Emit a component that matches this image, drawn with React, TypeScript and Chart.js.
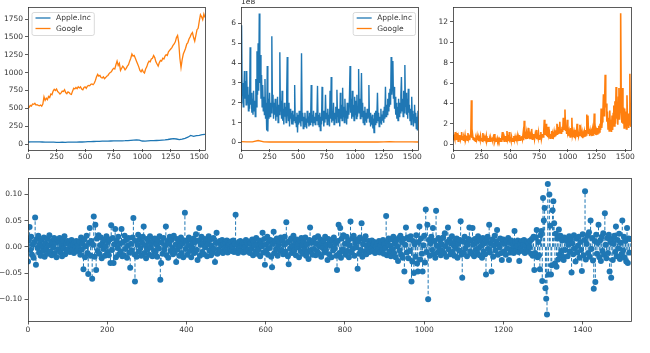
import { useEffect, useRef } from "react";
import { Chart, registerables } from "chart.js";

Chart.register(...registerables);

// ---------------- data ----------------
const GOOGLE_CLOSE_STEP = 10;
const APPLE_CLOSE_STEP = 25;
const VOLUME_STEP = 5;
const GOOGLE_VOLUME_STEP = 50;
const RATIO_STEP = 5;
const DIFF_STEP = 2;

const googleClose = [
  500, 515, 540, 530, 560, 555, 570, 545, 550, 540,
  535, 545, 530, 560, 660, 610, 640, 620, 665, 650,
  700, 690, 740, 765, 750, 770, 735, 720, 700, 715,
  740, 735, 760, 720, 705, 730, 720, 700, 695, 740,
  780, 770, 790, 775, 800, 785, 800, 770, 760, 790,
  800, 780, 810, 820, 815, 835, 840, 830, 850, 890,
  940, 975, 950, 960, 930, 925, 940, 915, 930, 950,
  960, 985, 1000, 1010, 1040, 1060, 1050, 1110, 1160, 1100,
  1130, 1030, 1060, 1090, 1070, 1040, 1060, 1090, 1110, 1160,
  1200, 1260, 1230, 1240, 1200, 1160, 1120, 1080, 1030, 1010,
  1040, 1010, 995, 1050, 1080, 1130, 1160, 1150, 1190, 1200,
  1240, 1210, 1150, 1120, 1090, 1140, 1170, 1160, 1200, 1190,
  1230, 1250, 1240, 1290, 1310, 1330, 1350, 1380, 1400, 1430,
  1490, 1520, 1420, 1200, 1070, 1180, 1260, 1300, 1340, 1400,
  1420, 1470, 1500, 1540, 1560, 1490, 1440, 1520, 1600, 1620,
  1720, 1810, 1780, 1740, 1820, 1770,
];

const appleClose = [
  28, 30, 31, 30, 29, 28, 27, 26, 26, 25,
  24, 24, 25, 24, 25, 26, 27, 27, 28, 28,
  30, 32, 33, 35, 37, 38, 39, 40, 40, 42,
  43, 44, 44, 45, 46, 48, 52, 55, 58, 54,
  42, 40, 44, 46, 47, 49, 50, 54, 58, 63,
  70, 76, 70, 62, 68, 80, 95, 120, 108, 118,
  122, 130, 135,
];

// volumes in units of 1e8
const appleVolume = [
  2.0, 5.9, 2.4, 3.0, 1.8, 2.6, 3.6, 2.2, 3.1, 1.9,
  3.6, 2.0, 2.8, 1.6, 2.4, 1.7, 4.8, 1.9, 2.5, 1.5,
  2.2, 1.4, 2.6, 1.6, 2.1, 1.3, 3.2, 1.8, 4.6, 2.4,
  5.0, 2.6, 6.5, 3.0, 4.4, 2.2, 3.4, 1.8, 2.9, 1.6,
  2.3, 1.4, 3.2, 1.2, 2.0, 0.6, 3.85, 0.55, 2.2, 1.2,
  2.5, 1.3, 2.0, 1.5, 5.35, 1.9, 2.4, 1.2, 2.0, 1.4,
  2.2, 1.1, 1.8, 1.3, 2.3, 1.0, 1.9, 1.4, 4.55, 1.6,
  2.1, 1.2, 2.6, 1.1, 1.7, 0.9, 2.0, 1.3, 1.8, 1.0,
  2.4, 4.3, 1.6, 1.1, 2.0, 0.8, 1.7, 1.2, 1.5, 0.9,
  1.6, 0.9, 1.4, 1.1, 2.9, 1.0, 1.3, 0.8, 1.5, 0.5,
  1.4, 0.9, 1.6, 1.0, 1.3, 0.8, 4.5, 1.1, 1.5, 0.7,
  1.3, 0.8, 1.5, 0.9, 1.2, 0.7, 1.6, 1.0, 1.3, 0.8,
  1.5, 0.9, 1.2, 2.9, 1.0, 1.4, 0.8, 1.6, 1.0, 1.3,
  0.9, 1.5, 1.1, 1.3, 2.85, 0.9, 1.4, 0.8, 1.5, 0.6,
  1.3, 0.9, 2.8, 1.1, 1.6, 0.8, 1.4, 1.0, 2.4, 1.2,
  1.5, 0.9, 1.7, 1.1, 1.4, 0.8, 2.6, 1.2, 3.3, 1.0,
  1.6, 1.1, 2.0, 0.9, 1.5, 1.2, 1.8, 1.0, 2.65, 1.3,
  1.7, 1.0, 1.4, 0.8, 2.5, 1.2, 1.9, 1.1, 2.75, 1.3,
  1.8, 1.0, 2.2, 1.3, 1.6, 0.9, 2.0, 1.2, 1.7, 1.4,
  2.4, 3.85, 1.5, 2.2, 1.2, 2.6, 1.3, 1.9, 1.1, 2.3,
  1.4, 2.1, 1.2, 2.4, 1.3, 1.8, 3.7, 1.5, 2.2, 1.2,
  1.9, 3.5, 1.3, 2.0, 1.0, 1.6, 0.9, 1.8, 1.1, 1.5,
  1.0, 1.7, 1.2, 1.4, 2.9, 1.0, 1.5, 0.8, 1.3, 0.9,
  1.4, 0.7, 1.2, 0.5, 1.5, 0.9, 1.6, 1.0, 1.3, 2.5,
  1.1, 1.5, 0.8, 1.3, 1.0, 1.7, 0.9, 1.4, 1.1, 1.6,
  1.0, 1.8, 1.2, 2.8, 1.3, 1.9, 1.4, 2.2, 1.6, 2.5,
  1.8, 2.7, 1.9, 4.3, 2.4, 3.0, 4.1, 2.2, 2.8, 1.7,
  2.3, 1.4, 2.0, 1.2, 1.8, 1.1, 2.2, 1.3, 2.0, 1.5,
  2.4, 3.3, 1.6, 2.2, 1.3, 2.6, 1.5, 3.9, 1.8, 2.5,
  1.4, 2.2, 1.2, 2.7, 1.5, 1.9, 1.1, 1.7, 0.9, 2.3,
  1.2, 1.6, 0.8, 1.4, 1.9, 1.0, 1.5, 0.7, 1.3, 0.6,
  1.6,
];

const googleVolume = [
  0.04, 0.03, 0.03, 0.1, 0.03, 0.02, 0.03, 0.02, 0.02, 0.02,
  0.02, 0.02, 0.02, 0.03, 0.02, 0.02, 0.02, 0.02, 0.03, 0.02,
  0.03, 0.02, 0.02, 0.02, 0.02, 0.03, 0.04, 0.03, 0.03, 0.03,
  0.03, 0.02,
];

const ratioSeries = [
  0.9, 0.4, 0.7, 0.5, 1.2, 0.4, 0.8, 0.5, 1.1, 0.3,
  0.7, 0.5, 0.9, 0.4, 0.6, 1.2, 0.5, 0.8, 0.4, 0.7,
  0.5, 0.9, 0.4, 0.6, 0.8, 0.4, 1.1, 0.5, 0.7, 0.4,
  0.8, 1.0, 4.3, 0.6, 1.0, 0.5, 0.7, 0.4, 0.6, 0.3,
  0.6, 0.4, 0.8, 0.4, 0.7, 0.3, 0.6, 0.4, 0.8, 0.4,
  0.6, 0.3, 1.1, 0.5, 0.7, 0.3, 0.6, 0.4, 0.8, 0.3,
  0.5, 0.3, 0.6, 0.3, 0.5, 0.3, 0.6, 0.4, 0.5, 0.3,
  0.6, 0.3, 1.0, 0.3, 0.5, 0.3, 0.4, 0.6, 0.3, 0.5,
  0.3, 0.5, 0.3, 0.6, 0.3, 0.7, 1.2, 0.4, 0.7, 0.3,
  0.6, 0.4, 0.8, 0.3, 1.3, 0.4, 0.6, 0.3, 1.2, 0.4,
  0.5, 0.3, 0.7, 0.3, 0.6, 0.3, 0.8, 0.4, 0.7, 0.3,
  0.6, 0.4, 0.8, 0.3, 0.7, 0.4, 0.9, 0.4, 0.6, 0.5,
  0.8, 0.5, 1.0, 0.4, 2.3, 0.6, 0.9, 0.5, 1.1, 0.6,
  0.8, 1.6, 0.6, 1.0, 0.5, 0.9, 0.6, 1.5, 0.5, 0.8,
  0.6, 1.0, 0.5, 0.9, 0.6, 1.4, 0.5, 0.8, 0.6, 1.1,
  0.5, 0.9, 0.6, 1.2, 0.5, 0.8, 1.0, 0.7, 1.3, 2.4,
  0.9, 1.4, 2.0, 0.8, 1.2, 0.7, 1.7, 0.9, 1.1, 0.6,
  1.0, 0.7, 1.3, 0.6, 1.0, 0.8, 1.2, 0.7, 1.1, 0.8,
  1.3, 2.0, 0.9, 1.4, 1.0, 1.6, 2.2, 1.1, 1.5, 1.0,
  1.7, 1.2, 2.6, 1.4, 1.9, 3.4, 1.3, 1.8, 1.0, 2.4,
  1.1, 1.3, 0.8, 1.2, 0.7, 1.6, 0.8, 2.6, 0.9, 1.2,
  0.7, 1.1, 0.6, 1.4, 0.8, 1.0, 2.0, 0.7, 1.2, 0.8,
  1.0, 1.9, 0.8, 1.3, 0.7, 1.1, 0.6, 1.0, 0.7, 1.2,
  0.8, 1.4, 0.9, 2.9, 1.2, 2.8, 1.0, 1.5, 0.8, 1.3,
  0.9, 1.2, 0.8, 1.4, 0.9, 1.3, 3.0, 1.0, 1.5, 0.9,
  1.3, 1.0, 1.6, 1.1, 1.8, 1.2, 2.0, 1.4, 3.5, 1.6,
  2.2, 3.0, 4.9, 2.8, 4.0, 6.8, 3.6, 4.0, 2.2, 3.2,
  1.5, 2.6, 1.3, 3.3, 1.6, 2.4, 1.2, 2.8, 1.4, 3.0,
  3.8, 1.8, 4.2, 2.0, 5.6, 2.5, 3.6, 1.9, 4.6, 5.5,
  2.4, 3.4, 12.85, 4.2, 2.1, 5.5, 2.0, 3.6, 1.6, 3.5,
  1.8, 3.2, 1.5, 4.8, 2.0, 3.0, 1.6, 2.6, 6.9, 1.9,
  1.7,
];

const diffSeries = [
  -0.028, 0.012, 0.038, -0.006, 0.019, -0.015, 0.004, -0.021, 0.009, 0.056, -0.034, 0.015, -0.002, 0.021, -0.011, 0.006, -0.017, 0.013, 0.001, -0.008, 0.018, -0.019, 0.007, -0.004, 0.016, -0.013, 0.003, 0.022, -0.009, 0.011, -0.016, 0.005, -0.001, 0.017, -0.012, 0.008, -0.02, 0.014, -0.005, 0.01,
  0.017, -0.011, 0.004, -0.018, 0.012, -0.003, 0.02, -0.014, 0.007, -0.007, 0.011, -0.004, 0.008, -0.01, 0.002, 0.013, -0.006, 0.005, -0.012, 0.009, -0.001, 0.011, -0.008, 0.004, -0.003, 0.01, -0.015, 0.018, -0.005, 0.006, -0.043, 0.014, -0.02, 0.001, 0.021, -0.012, -0.052, 0.008, 0.036, -0.017,
  0.011, -0.061, 0.004, 0.058, -0.019, 0.042, -0.044, 0.016, -0.008, 0.022, -0.013, 0.003, 0.018, -0.022, 0.007, -0.004, 0.013, -0.017, 0.001, 0.02, -0.01, 0.009, -0.016, 0.014, -0.031, 0.041, -0.006, 0.017, -0.031, 0.005, 0.034, -0.02, 0.011, -0.002, 0.019, -0.014, 0.006, -0.009, 0.034, -0.018,
  0.009, -0.016, 0.021, -0.004, 0.013, -0.021, 0.002, 0.017, -0.011, -0.04, 0.006, -0.007, 0.018, 0.055, -0.014, -0.066, 0.011, -0.019, 0.004, 0.023, -0.009, 0.014, -0.002, -0.017, 0.008, 0.019, 0.039, -0.012, 0.003, -0.022, 0.015, -0.005, 0.01, -0.015, 0.02, -0.001, 0.007, -0.018, 0.012, -0.008,
  0.016, -0.01, 0.005, -0.019, 0.012, -0.003, 0.02, -0.063, -0.031, 0.008, -0.013, 0.017, -0.006, 0.002, 0.039, -0.016, 0.011, -0.021, 0.006, 0.019, -0.008, 0.013, -0.002, -0.014, 0.021, -0.011, 0.004, -0.029, 0.015, -0.005, 0.009, -0.017, 0.001, 0.018, -0.012, 0.007, -0.02, 0.012, 0.065, -0.004,
  0.011, -0.015, 0.003, 0.018, -0.008, 0.014, -0.02, 0.006, -0.003, 0.016, -0.012, 0.009, 0.024, -0.006, -0.025, 0.012, 0.036, -0.017, 0.004, 0.019, -0.01, 0.007, -0.014, 0.015, -0.001, 0.011, -0.018, 0.005, 0.02, -0.007, 0.013, -0.016, 0.002, -0.011, 0.017, -0.004, -0.029, 0.008, 0.027, -0.013,
  0.008, -0.005, 0.011, -0.009, 0.002, 0.013, -0.012, 0.005, -0.002, 0.009, -0.007, 0.012, -0.011, 0.003, 0.007, -0.004, 0.01, -0.008, 0.001, 0.012, -0.01, 0.006, 0.061, -0.006, 0.004, -0.012, 0.009, -0.003, 0.011, -0.008, 0.002, 0.008, -0.011, 0.005, -0.001, 0.013, -0.009, 0.006, -0.005, 0.01,
  -0.012, 0.007, -0.003, 0.014, -0.016, 0.01, 0.002, -0.009, 0.017, -0.013, 0.005, -0.005, 0.012, -0.018, 0.008, 0.001, 0.027, -0.011, 0.015, -0.034, 0.004, -0.007, 0.019, -0.015, 0.009, -0.002, 0.013, -0.019, -0.039, 0.006, 0.029, -0.012, 0.011, -0.004, 0.016, -0.017, 0.003, 0.01, -0.008, 0.018,
  -0.006, 0.013, -0.014, 0.004, 0.019, -0.009, 0.047, 0.008, -0.018, -0.033, 0.011, -0.003, 0.016, -0.012, 0.002, 0.021, -0.007, 0.009, -0.016, 0.014, -0.001, 0.006, -0.02, 0.012, -0.008, 0.017, 0.003, -0.013, 0.01, -0.004, 0.018, -0.017, 0.005, -0.01, -0.023, 0.013, 0.037, -0.006, 0.008, -0.015,
  0.012, -0.004, 0.017, -0.016, 0.006, -0.009, 0.02, -0.013, 0.001, 0.014, -0.019, 0.008, -0.002, 0.011, -0.011, 0.019, -0.006, 0.004, -0.025, 0.015, -0.014, 0.009, 0.002, -0.02, 0.013, -0.007, 0.018, -0.003, 0.007, -0.017, -0.044, 0.011, 0.042, -0.012, 0.036, -0.021, 0.016, -0.005, 0.022, -0.01,
  0.006, -0.015, 0.019, -0.008, 0.012, -0.02, 0.003, 0.0485, -0.011, 0.016, -0.004, 0.021, -0.017, 0.008, -0.001, 0.014, -0.042, 0.01, -0.013, 0.018, -0.006, 0.045, -0.019, 0.005, 0.013, -0.009, 0.02, -0.014, 0.002, -0.005, 0.011, -0.01, 0.006, -0.003, 0.012, -0.008, 0.004, 0.009, -0.012, 0.001,
  -0.009, 0.007, -0.004, 0.011, -0.011, 0.003, 0.009, -0.006, 0.013, -0.013, 0.005, -0.002, 0.059, -0.016, 0.01, 0.016, -0.009, 0.002, -0.018, 0.014, -0.004, 0.019, -0.012, 0.007, -0.02, 0.012, 0.001, -0.027, 0.017, -0.007, 0.021, -0.015, 0.009, -0.021, 0.015, -0.047, 0.004, 0.037, -0.011, 0.018,
  -0.022, 0.014, -0.008, 0.02, -0.066, -0.028, 0.011, -0.05, 0.005, -0.019, 0.022, -0.032, -0.047, 0.009, 0.039, -0.024, 0.016, -0.013, -0.047, 0.003, 0.021, -0.03, 0.071, -0.01, 0.042, -0.1, 0.013, -0.017, 0.007, 0.019, -0.006, 0.036, -0.014, 0.011, -0.021, 0.069, 0.002, -0.011, 0.017, -0.004,
  0.012, -0.016, 0.005, -0.008, 0.018, -0.012, 0.026, 0.001, -0.019, 0.009, 0.037, -0.005, 0.014, -0.014, 0.007, 0.02, -0.01, 0.003, -0.017, 0.011, -0.002, 0.016, -0.021, 0.006, -0.007, 0.013, 0.049, -0.015, -0.059, 0.01, -0.011, 0.019, -0.003, 0.008, -0.018, 0.004, 0.015, 0.037, -0.009, 0.012,
  -0.013, 0.036, 0.004, -0.018, 0.015, -0.006, 0.009, -0.012, 0.02, -0.002, -0.016, 0.012, 0.002, -0.021, 0.017, -0.009, 0.007, -0.014, -0.053, 0.011, 0.019, -0.004, 0.042, -0.011, 0.006, -0.047, 0.014, -0.019, 0.003, 0.021, -0.007, 0.01, 0.032, -0.015, 0.005, -0.001, 0.016, -0.012, -0.025, 0.008,
  0.014, -0.009, 0.006, -0.015, 0.011, -0.003, 0.017, -0.025, 0.008, -0.011, 0.012, -0.005, 0.003, -0.012, 0.03, 0.009, -0.007, 0.001, 0.012, -0.01, -0.027, 0.006, -0.003, 0.011, -0.008, 0.004, 0.013, -0.012, 0.002, -0.006, 0.01, -0.009, 0.007, -0.001, 0.012, -0.013, 0.015, -0.017, 0.019, -0.044,
  -0.012, 0.018, 0.032, -0.02, 0.009, -0.016, -0.043, 0.022, 0.03, -0.065, 0.093, 0.05, 0.074, -0.079, -0.099, -0.129, 0.12, -0.053, 0.1, 0.04, -0.053, -0.035, 0.07, 0.087, 0.045, -0.032, 0.025, -0.038, 0.016, -0.024, 0.033, -0.015, 0.021, -0.008, 0.012, -0.019, -0.025, 0.018, -0.006, 0.014,
  0.011, -0.018, 0.004, 0.02, -0.009, 0.014, -0.049, 0.007, -0.014, 0.022, -0.003, -0.028, 0.016, -0.011, 0.002, 0.019, -0.021, 0.009, -0.006, -0.046, 0.024, -0.016, 0.013, 0.106, -0.024, 0.006, 0.021, -0.012, 0.028, -0.019, 0.05, -0.004, 0.017, -0.026, -0.08, 0.011, -0.067, 0.023, -0.013, 0.008,
  0.042, -0.02, 0.012, -0.027, 0.019, -0.008, 0.026, -0.015, 0.064, 0.004, -0.022, 0.017, -0.012, 0.023, -0.047, 0.009, -0.059, 0.015, -0.025, 0.006, 0.021, -0.01, 0.039, -0.018, 0.013, -0.003, 0.025, -0.023, 0.008, -0.014, 0.05, -0.007, 0.019, -0.021, 0.011, -0.028, 0.036, -0.031, 0.016, -0.011,
  0.015,
];

// ticks
const topXTicks = [0, 250, 500, 750, 1000, 1250, 1500];
const topXLabels = ["0", "250", "500", "750", "1000", "1250", "1500"];
const priceYTicks = [0, 250, 500, 750, 1000, 1250, 1500, 1750];
const priceYLabels = ["0", "250", "500", "750", "1000", "1250", "1500", "1750"];
const volumeYTicks = [0, 1, 2, 3, 4, 5, 6];
const volumeYLabels = ["0", "1", "2", "3", "4", "5", "6"];
const ratioYTicks = [0, 2, 4, 6, 8, 10, 12];
const ratioYLabels = ["0", "2", "4", "6", "8", "10", "12"];
const diffXTicks = [0, 200, 400, 600, 800, 1000, 1200, 1400];
const diffXLabels = ["0", "200", "400", "600", "800", "1000", "1200", "1400"];
const diffYTicks = [-0.1, -0.05, 0, 0.05, 0.1];
const diffYLabels = ["\u22120.10", "\u22120.05", "0.00", "0.05", "0.10"];

const seriesNames = ["Apple.Inc", "Google"];

// ---------------- styling helpers ----------------
const C0 = "#1f77b4";
const C1 = "#ff7f0e";
const FONT = "'DejaVu Sans', 'Liberation Sans', sans-serif";
const FS = 7.5;
const INK = "#333";

const toPoints = (vals: number[], step: number) => vals.map((v, i) => ({ x: i * step, y: v }));

function axis(min: number, max: number, tickVals: number[], labels: string[], size: number, isX: boolean, pad: number, tickLen = 3) {
  return {
    type: "linear",
    min,
    max,
    afterBuildTicks: (s: any) => {
      s.ticks = tickVals.map((v) => ({ value: v }));
    },
    afterFit: (s: any) => {
      if (isX) s.height = size;
      else s.width = size;
    },
    grid: { drawOnChartArea: false, drawTicks: true, tickLength: tickLen, color: INK, lineWidth: 0.8 },
    border: { display: false },
    ticks: {
      autoSkip: false,
      maxRotation: 0,
      minRotation: 0,
      padding: pad,
      color: INK,
      font: { family: FONT, size: FS },
      callback: (_v: any, i: number) => labels[i],
    },
  };
}

const framePlugin = {
  id: "frame",
  afterDraw(chart: any) {
    const { ctx, chartArea: a } = chart;
    ctx.save();
    ctx.strokeStyle = INK;
    ctx.lineWidth = 0.8;
    ctx.strokeRect(Math.round(a.left) + 0.5, Math.round(a.top) + 0.5, Math.round(a.right - a.left), Math.round(a.bottom - a.top));
    ctx.restore();
  },
};

function legendPlugin(side: "left" | "right") {
  return {
    id: "mplLegend",
    afterDatasetsDraw(chart: any) {
      const { ctx, chartArea: a } = chart;
      const ds = chart.data.datasets;
      ctx.save();
      ctx.font = `${FS}px ${FONT}`;
      const tw = Math.max(...ds.map((d: any) => ctx.measureText(d.label).width));
      const w = 24 + tw + 3.5;
      const h = 23;
      const x = side === "left" ? a.left + 4 : a.right - 2.5 - w;
      const y = a.top + 6;
      ctx.beginPath();
      const r = 2;
      ctx.moveTo(x + r, y);
      ctx.arcTo(x + w, y, x + w, y + h, r);
      ctx.arcTo(x + w, y + h, x, y + h, r);
      ctx.arcTo(x, y + h, x, y, r);
      ctx.arcTo(x, y, x + w, y, r);
      ctx.closePath();
      ctx.fillStyle = "rgba(255,255,255,0.8)";
      ctx.fill();
      ctx.strokeStyle = "#d0d0d0";
      ctx.lineWidth = 0.8;
      ctx.stroke();
      ds.forEach((d: any, i: number) => {
        const ly = y + 5.5 + i * 10.5;
        ctx.strokeStyle = d.borderColor;
        ctx.lineWidth = 1.3;
        ctx.beginPath();
        ctx.moveTo(x + 3.5, ly);
        ctx.lineTo(x + 18.5, ly);
        ctx.stroke();
        ctx.fillStyle = INK;
        ctx.textBaseline = "middle";
        ctx.textAlign = "left";
        ctx.fillText(d.label, x + 24, ly + 0.5);
      });
      ctx.restore();
    },
  };
}

const offsetTextPlugin = {
  id: "offsetText",
  afterDraw(chart: any) {
    const { ctx, chartArea: a } = chart;
    ctx.save();
    ctx.font = `${FS}px ${FONT}`;
    ctx.fillStyle = INK;
    ctx.textBaseline = "alphabetic";
    ctx.textAlign = "left";
    ctx.fillText("1e8", a.left, a.top - 2.3);
    ctx.restore();
  },
};

const stemPlugin = {
  id: "stems",
  beforeDatasetsDraw(chart: any) {
    const { ctx, chartArea: a, scales } = chart;
    const xs = scales.x;
    const ys = scales.y;
    const pts = chart.data.datasets[0].data;
    const y0 = ys.getPixelForValue(0);
    ctx.save();
    ctx.beginPath();
    ctx.rect(a.left, a.top, a.right - a.left, a.bottom - a.top);
    ctx.clip();
    ctx.strokeStyle = C0;
    ctx.lineWidth = 1;
    ctx.setLineDash([3.5, 2]);
    pts.forEach((p: any) => {
      const px = xs.getPixelForValue(p.x);
      ctx.beginPath();
      ctx.moveTo(px, y0);
      ctx.lineTo(px, ys.getPixelForValue(p.y));
      ctx.stroke();
    });
    ctx.restore();
  },
};

function baseOptions(padding: any, x: any, y: any) {
  return {
    responsive: false,
    maintainAspectRatio: false,
    animation: false,
    devicePixelRatio: 1,
    events: [],
    layout: { padding },
    plugins: { legend: { display: false }, tooltip: { enabled: false } },
    scales: { x, y },
  };
}

const lineDs = (label: string, data: any[], color: string, order: number, width: number) => ({
  label,
  data,
  borderColor: color,
  backgroundColor: color,
  borderWidth: width,
  pointRadius: 0,
  tension: 0,
  fill: false,
  order,
});

export default function App() {
  const r1 = useRef<HTMLCanvasElement>(null);
  const r2 = useRef<HTMLCanvasElement>(null);
  const r3 = useRef<HTMLCanvasElement>(null);
  const r4 = useRef<HTMLCanvasElement>(null);

  useEffect(() => {
    const charts: Chart[] = [];

    charts.push(
      new Chart(r1.current as HTMLCanvasElement, {
        type: "line",
        data: {
          datasets: [
            lineDs(seriesNames[0], toPoints(appleClose, APPLE_CLOSE_STEP), C0, 1, 1.3),
            lineDs(seriesNames[1], toPoints(googleClose, GOOGLE_CLOSE_STEP), C1, 0, 1.3),
          ],
        },
        options: baseOptions(
          { left: 0, right: 7, top: 5, bottom: 0 },
          axis(0, 1550, topXTicks, topXLabels, 21, true, 1),
          axis(-70, 1925, priceYTicks, priceYLabels, 28, false, 2)
        ) as any,
        plugins: [framePlugin, legendPlugin("left")],
      })
    );

    charts.push(
      new Chart(r2.current as HTMLCanvasElement, {
        type: "line",
        data: {
          datasets: [
            lineDs(seriesNames[0], toPoints(appleVolume, VOLUME_STEP), C0, 1, 1.4),
            lineDs(seriesNames[1], toPoints(googleVolume, GOOGLE_VOLUME_STEP), C1, 0, 1.4),
          ],
        },
        options: baseOptions(
          { left: 0, right: 6, top: 5, bottom: 0 },
          axis(0, 1550, topXTicks, topXLabels, 21, true, 1),
          axis(-0.33, 6.85, volumeYTicks, volumeYLabels, 29, false, 2)
        ) as any,
        plugins: [framePlugin, legendPlugin("right"), offsetTextPlugin],
      })
    );

    charts.push(
      new Chart(r3.current as HTMLCanvasElement, {
        type: "line",
        data: {
          datasets: [lineDs("ratio", toPoints(ratioSeries, RATIO_STEP), C1, 0, 1.6)],
        },
        options: baseOptions(
          { left: 0, right: 19, top: 5, bottom: 0 },
          axis(0, 1550, topXTicks, topXLabels, 21, true, 1),
          axis(-0.47, 13.5, ratioYTicks, ratioYLabels, 29, false, 2)
        ) as any,
        plugins: [framePlugin],
      })
    );

    charts.push(
      new Chart(r4.current as HTMLCanvasElement, {
        type: "scatter",
        data: {
          datasets: [
            {
              label: "diff",
              data: toPoints(diffSeries, DIFF_STEP),
              backgroundColor: C0,
              borderColor: C0,
              borderWidth: 0,
              pointRadius: 3,
              showLine: false,
            },
          ],
        },
        options: baseOptions(
          { left: 0, right: 19, top: 8, bottom: 0 },
          axis(0, 1522, diffXTicks, diffXLabels, 32, true, 1, 3.5),
          axis(-0.1415, 0.1313, diffYTicks, diffYLabels, 28, false, 2.5, 3.5)
        ) as any,
        plugins: [stemPlugin, framePlugin],
      })
    );

    return () => charts.forEach((c) => c.destroy());
  }, []);

  const cs = (left: number, top: number, w: number, h: number): any => ({
    position: "absolute",
    left,
    top,
    width: w,
    height: h,
  });

  return (
    <div style={{ position: "absolute", left: 0, top: 0, width: 650, height: 353, background: "#fff", overflow: "hidden" }}>
      <canvas ref={r1} width={212} height={170} style={cs(0, 0, 212, 170)} />
      <canvas ref={r2} width={212} height={170} style={cs(212, 0, 212, 170)} />
      <canvas ref={r3} width={226} height={170} style={cs(424, 0, 226, 170)} />
      <canvas ref={r4} width={650} height={183} style={cs(0, 170, 650, 183)} />
    </div>
  );
}
